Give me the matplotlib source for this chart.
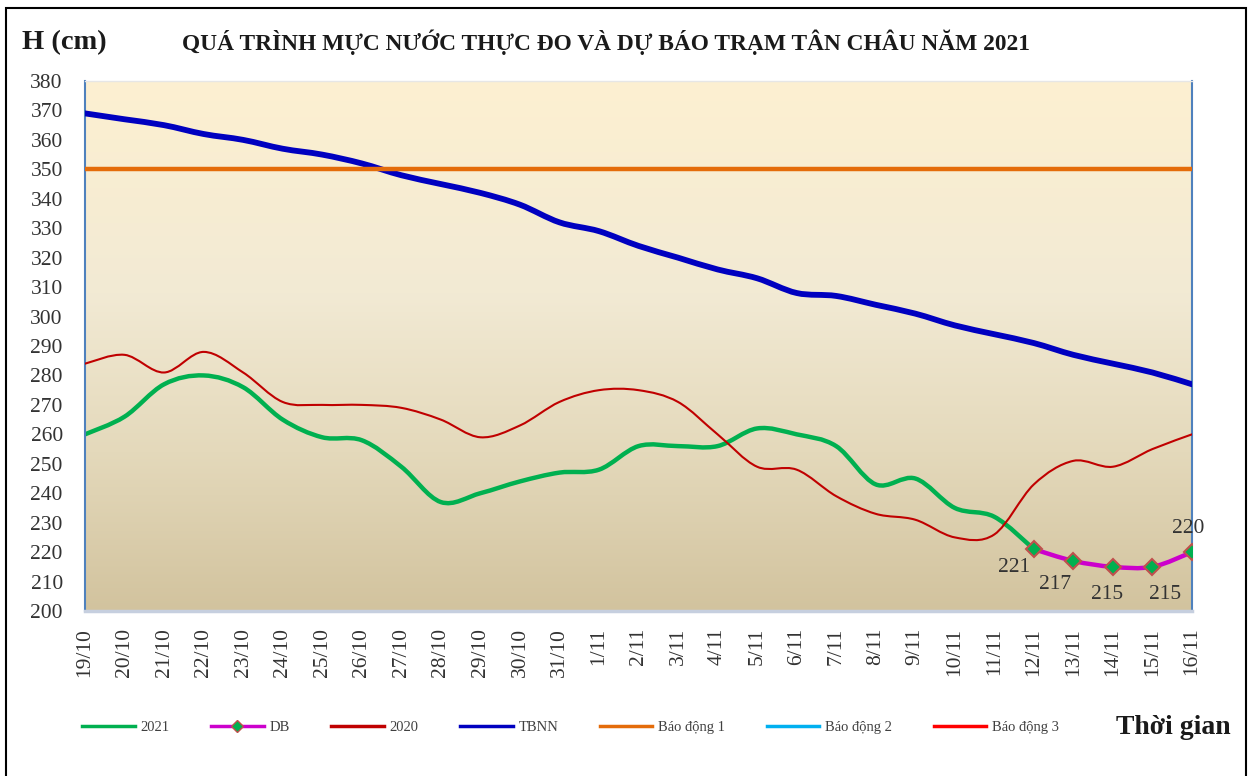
import matplotlib
matplotlib.use("Agg")
import matplotlib.pyplot as plt
import numpy as np
from matplotlib.path import Path
from matplotlib.patches import PathPatch, Rectangle
from matplotlib.lines import Line2D
from matplotlib.colors import LinearSegmentedColormap

plt.rcParams["font.family"] = ["Liberation Serif", "DejaVu Serif"]

# ---- data -------------------------------------------------------------
days = ["19/10", "20/10", "21/10", "22/10", "23/10", "24/10", "25/10", "26/10",
        "27/10", "28/10", "29/10", "30/10", "31/10", "1/11", "2/11", "3/11",
        "4/11", "5/11", "6/11", "7/11", "8/11", "9/11", "10/11", "11/11",
        "12/11", "13/11", "14/11", "15/11", "16/11"]

h2021 = [260, 266, 277, 280, 276, 265, 259, 258, 249, 237, 240, 244, 247, 248,
         256, 256, 256, 262, 260, 256, 243, 245, 235, 232, 221]
db = [221, 217, 215, 215, 220]          # 12/11 .. 16/11
h2020 = [284, 287, 281, 288, 281, 271, 270, 270, 269, 265, 259, 263, 271, 275,
         275, 271, 260, 249, 248, 239, 233, 231, 225, 226, 243, 251, 249, 255, 260]
tbnn = [369, 367, 365, 362, 360, 357, 355, 352, 348, 345, 342, 338, 332, 329,
        324, 320, 316, 313, 308, 307, 304, 301, 297, 294, 291, 287, 284, 281, 277]
bd1, bd2, bd3 = 350, 400, 450

x = np.arange(len(days))
x_db = x[len(h2021) - 1:]


def smooth_path(xs, ys):
    # excel-like smoothed line (catmull-rom as bezier segments)
    n = len(xs)
    verts = [(xs[0], ys[0])]
    codes = [Path.MOVETO]
    for i in range(n - 1):
        a = max(i - 1, 0)
        d = min(i + 2, n - 1)
        c1 = (xs[i] + (xs[i + 1] - xs[a]) / 6, ys[i] + (ys[i + 1] - ys[a]) / 6)
        c2 = (xs[i + 1] - (xs[d] - xs[i]) / 6, ys[i + 1] - (ys[d] - ys[i]) / 6)
        verts += [c1, c2, (xs[i + 1], ys[i + 1])]
        codes += [Path.CURVE4] * 3
    return Path(verts, codes)


def curve(ax, xs, ys, color, lw, z):
    ax.add_patch(PathPatch(smooth_path(list(xs), list(ys)), facecolor="none",
                           edgecolor=color, lw=lw, capstyle="round",
                           joinstyle="round", zorder=z))


fig = plt.figure(figsize=(12.54, 7.76), dpi=100)
ax = fig.add_axes([85 / 1254, 1 - 611 / 776, (1192 - 85) / 1254, (611 - 81) / 776])

# background gradient
cmap = LinearSegmentedColormap.from_list(
    "bg", [(0, "#d2c39e"), (0.3, "#e4d9bb"), (0.6, "#f2ead4"), (1, "#fdf0d1")])
ax.imshow(np.linspace(0, 1, 256).reshape(-1, 1), aspect="auto", cmap=cmap,
          extent=(0, 28, 200, 380), origin="lower", zorder=0)

curve(ax, x[:len(h2021)], h2021, "#00b050", 3.2, 2)
curve(ax, x_db, db, "#cc00cc", 3.2, 3)
ax.plot(x_db, db, ls="none", marker="D", ms=8, mfc="#00b050", mec="#c0504d",
        mew=1.5, zorder=6)
curve(ax, x, h2020, "#c00000", 1.5, 4)
curve(ax, x, tbnn, "#0000c0", 4.2, 4)
ax.plot(x, [bd1] * len(x), color="#e46c0a", lw=3.2, zorder=5)
ax.plot(x, [bd2] * len(x), color="#00b0f0", lw=2.5, zorder=5)
ax.plot(x, [bd3] * len(x), color="#ff0000", lw=2.5, zorder=5)

# labels on forecast points
offsets = [(-14, -13), (-13, -17), (-4, -20), (9, -20), (-3, 17)]
for xi, v, off in zip(x_db, db, offsets):
    ax.annotate(str(v), (xi, v), xytext=off, textcoords="offset points",
                ha="center", va="center", fontsize=15.5, color="#333333", zorder=7)

ax.set_xlim(0, 28)
ax.set_ylim(200, 380)
ax.set_yticks(np.arange(200, 381, 10))
ax.set_xticks(x)
ax.set_xticklabels(days, rotation=90)
ax.tick_params(axis="both", length=0, labelsize=15.5, labelcolor="#333333")
ax.tick_params(axis="x", pad=12)
ax.tick_params(axis="y", pad=16)
for s in ["left", "right"]:
    ax.spines[s].set_color("#4f81bd")
    ax.spines[s].set_linewidth(1.5)
ax.spines["bottom"].set_color("#c6cfdf")
ax.spines["bottom"].set_linewidth(2.5)
ax.spines["top"].set_color("#e6e6e6")
ax.spines["top"].set_linewidth(1)

fig.text(22 / 1254, 1 - 43 / 776, "H (cm)", fontsize=20.5, fontweight="bold",
         color="#1a1a1a", va="center", ha="left")
fig.text(606 / 1254, 1 - 42 / 776,
         "QUÁ TRÌNH MỰC NƯỚC THỰC ĐO VÀ DỰ BÁO TRẠM TÂN CHÂU NĂM 2021",
         fontsize=16.8, fontweight="bold", color="#1a1a1a", va="center", ha="center")
fig.text(1173 / 1254, 1 - 727 / 776, "Thời gian", fontsize=20, fontweight="bold",
         color="#1a1a1a", va="center", ha="center")

handles = [
    Line2D([], [], color="#00b050", lw=2.5),
    Line2D([], [], color="#cc00cc", lw=2.5, marker="D", ms=6, mfc="#00b050",
           mec="#c0504d"),
    Line2D([], [], color="#c00000", lw=2.5),
    Line2D([], [], color="#0000c0", lw=2.5),
    Line2D([], [], color="#e46c0a", lw=2.5),
    Line2D([], [], color="#00b0f0", lw=2.5),
    Line2D([], [], color="#ff0000", lw=2.5),
]
labels = ["2021", "DB", "2020", "TBNN", "Báo động 1", "Báo động 2", "Báo động 3"]
leg = fig.legend(handles, labels, loc="center left", ncol=7,
                 bbox_to_anchor=(82 / 1254, 1 - 727 / 776), frameon=False,
                 fontsize=10.5, handlelength=3.6, handletextpad=0.4,
                 columnspacing=2.85, borderpad=0, borderaxespad=0)
for t in leg.get_texts():
    t.set_color("#404040")

fig.patches.append(Rectangle((6 / 1254, -0.01), (1246 - 6) / 1254, 1 - 8 / 776 + 0.01,
                             transform=fig.transFigure, fill=False, ec="black", lw=1.5))

fig.savefig("out.png", dpi=100)
